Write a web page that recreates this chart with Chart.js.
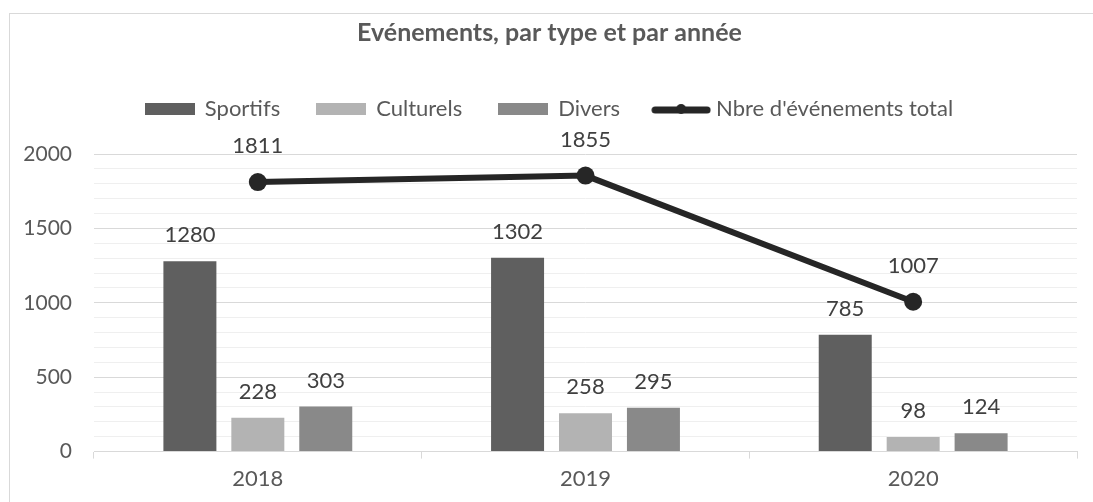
<!DOCTYPE html>
<html>
<head>
<meta charset="utf-8">
<script src="https://cdn.jsdelivr.net/npm/chart.js@4.4.1/dist/chart.umd.min.js"></script>
<style>
  html, body { margin: 0; padding: 0; background: #fff; }
  #wrap { width: 1093px; height: 502px; }
</style>
</head>
<body>
<div id="wrap"><canvas id="c"></canvas></div>
<script>
const years = ['2018', '2019', '2020'];
const sportifs = [1280, 1302, 785];
const culturels = [228, 258, 98];
const divers = [303, 295, 124];
const total = [1811, 1855, 1007];

const FONT = 'Lato, "Open Sans", sans-serif';
const GREY = '#595959';

// legend swatches drawn on small canvases
function swatch(w, h, color) {
  const c = document.createElement('canvas');
  c.width = w; c.height = h;
  const g = c.getContext('2d');
  g.fillStyle = color;
  g.fillRect(0, 0, w, h);
  return c;
}
function lineSwatch(w, h, color) {
  const c = document.createElement('canvas');
  c.width = w; c.height = h;
  const g = c.getContext('2d');
  g.strokeStyle = color;
  g.lineWidth = 7;
  g.lineCap = 'round';
  g.beginPath();
  g.moveTo(4, h / 2 + 1); g.lineTo(w - 4, h / 2 + 1);
  g.stroke();
  g.fillStyle = color;
  g.beginPath();
  g.arc(w / 2, h / 2, 5, 0, Math.PI * 2);
  g.fill();
  return c;
}

const frame = {
  id: 'frame',
  beforeDraw(chart) {
    const ctx = chart.ctx;
    ctx.save();
    ctx.strokeStyle = '#d9d9d9';
    ctx.lineWidth = 1;
    ctx.strokeRect(9.5, 13.5, 1100, 500);
    ctx.restore();
  }
};

// extra room between the legend row and the plot
const legendGap = {
  id: 'legendGap',
  beforeLayout(chart) {
    const lg = chart.legend;
    if (lg && !lg._gapPatched) {
      const fit = lg.fit.bind(lg);
      lg.fit = function () { fit(); this.height += 24; };
      lg._gapPatched = true;
    }
  }
};

const valueLabels = {
  id: 'valueLabels',
  afterDatasetsDraw(chart) {
    const ctx = chart.ctx;
    ctx.save();
    ctx.font = '22px ' + FONT;
    ctx.fillStyle = '#404040';
    ctx.textAlign = 'center';
    ctx.textBaseline = 'middle';
    chart.data.datasets.forEach((ds, i) => {
      const meta = chart.getDatasetMeta(i);
      const off = ds.type === 'line' ? 36 : 26;
      meta.data.forEach((el, j) => {
        ctx.fillText(String(ds.data[j]), el.x, el.y - off);
      });
    });
    ctx.restore();
  }
};

new Chart(document.getElementById('c'), {
  type: 'bar',
  data: {
    labels: years,
    datasets: [
      { label: 'Sportifs', data: sportifs, backgroundColor: '#5f5f5f', order: 1 },
      { label: 'Culturels', data: culturels, backgroundColor: '#b3b3b3', order: 1 },
      { label: 'Divers', data: divers, backgroundColor: '#898989', order: 1 },
      {
        type: 'line', label: "Nbre d'événements total", data: total,
        borderColor: '#262626', backgroundColor: '#262626', borderWidth: 6,
        pointRadius: 9, pointHoverRadius: 9, pointBorderWidth: 0, order: 0
      }
    ]
  },
  options: {
    responsive: true,
    maintainAspectRatio: false,
    animation: false,
    layout: { padding: { left: 22, right: 16, top: 0, bottom: 3 } },
    datasets: { bar: { categoryPercentage: 0.622, barPercentage: 0.78 } },
    plugins: {
      title: {
        display: true,
        text: 'Evénements, par type et par année',
        color: GREY,
        font: { family: FONT, size: 25, weight: 'bold' },
        padding: { top: 18, bottom: 13 }
      },
      legend: {
        labels: {
          color: GREY,
          font: { family: FONT, size: 22 },
          usePointStyle: true,
          pointStyleWidth: 48,
          boxHeight: 12,
          padding: 37,
          generateLabels(chart) {
            return chart.data.datasets.map((ds, i) => ({
              text: ds.label,
              fontColor: GREY,
              datasetIndex: i,
              hidden: false,
              lineWidth: 0,
              pointStyle: ds.type === 'line' ? lineSwatch(60, 14, ds.borderColor) : swatch(50, 12, ds.backgroundColor)
            }));
          }
        }
      },
      tooltip: { enabled: false }
    },
    scales: {
      x: {
        grid: { offset: true, drawOnChartArea: false, drawTicks: true, tickLength: 7, color: '#d9d9d9' },
        border: { display: true, color: '#d9d9d9' },
        ticks: { color: GREY, font: { family: FONT, size: 22 }, padding: 7 }
      },
      y: {
        min: 0,
        max: 2000,
        afterFit(scale) { scale.width = 72; },
        ticks: {
          stepSize: 100,
          autoSkip: false,
          color: GREY,
          font: { family: FONT, size: 21 },
          padding: 22,
          callback: v => (v % 500 === 0 ? v : '')
        },
        grid: {
          drawTicks: false,
          color: c => (c.tick && c.tick.value % 500 === 0 ? '#d9d9d9' : '#efefef')
        },
        border: { display: false }
      }
    }
  },
  plugins: [frame, legendGap, valueLabels]
});
</script>
</body>
</html>
